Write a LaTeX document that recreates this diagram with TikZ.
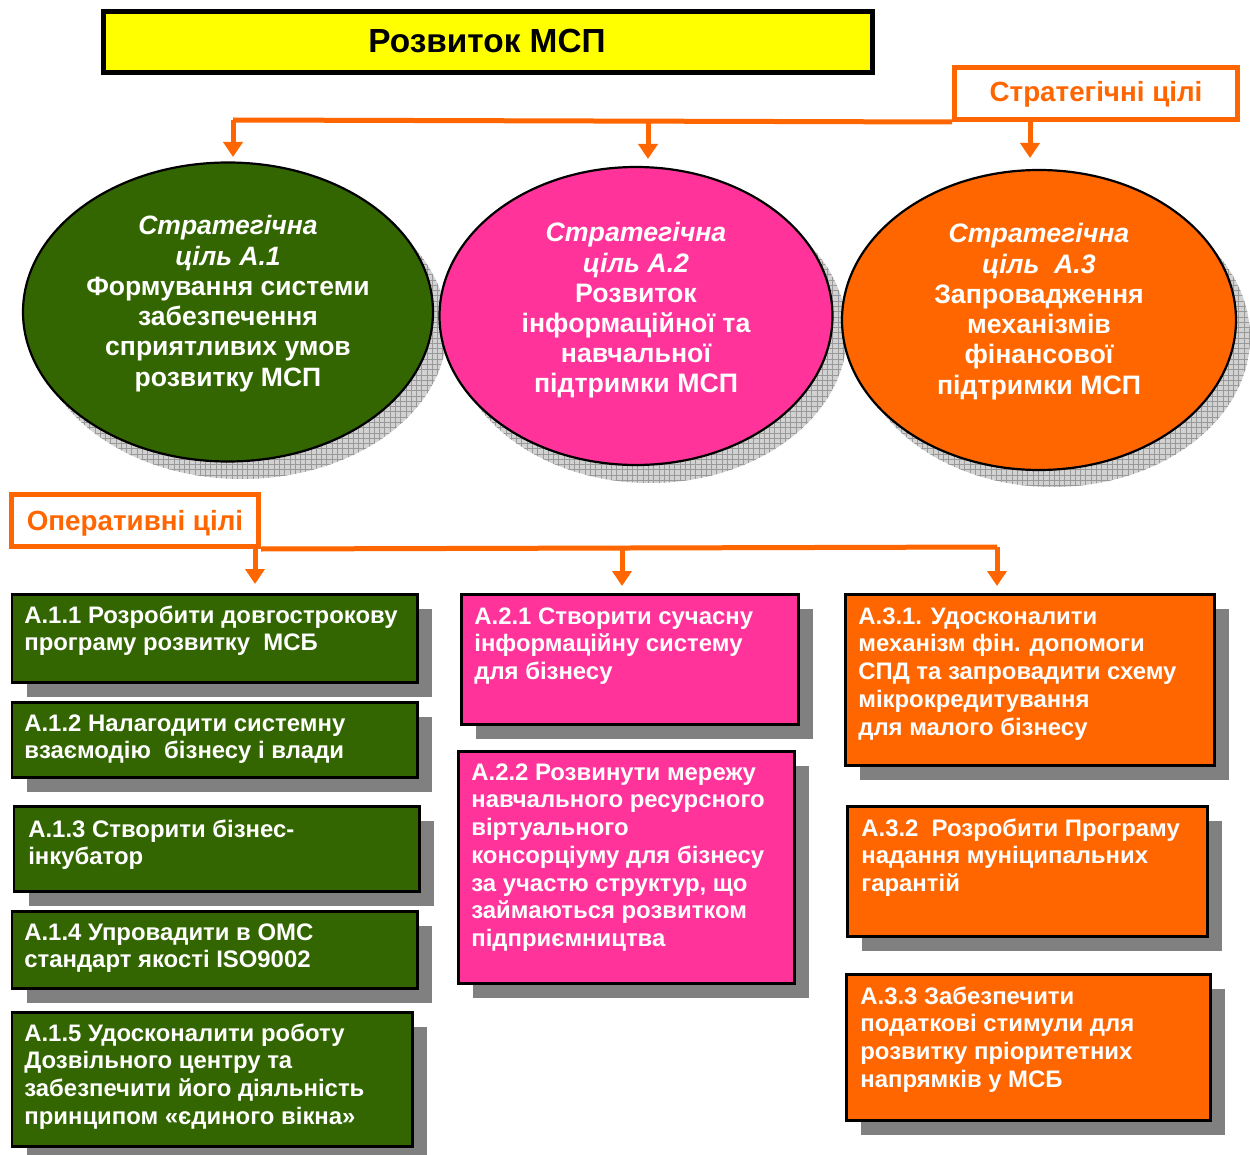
\documentclass[tikz,border=0pt]{standalone}
\usepackage{fontspec}
\setmainfont{Liberation Sans}
\usetikzlibrary{shapes.geometric,arrows.meta,patterns}
\newdimen\pxu \pxu=0.02cm
\definecolor{greenc}{HTML}{336600}
\definecolor{pinkc}{HTML}{FF3399}
\definecolor{orangec}{HTML}{FF6600}
\definecolor{yellowc}{HTML}{FFFF00}
\definecolor{shadowc}{HTML}{808080}
\newcommand\goalbox[9]{%
  \fill[shadowc] ({#2+16},{#3+16}) rectangle ({#4+16},{#5+16});
  \node[goalrect, fill=#6, minimum width={(#4-#2)*\pxu}, minimum height={(#5-#3)*\pxu}] (#1) at (#2,#3) {};
  \node[goaltext] (#1t) at (#7,{#8+1}) {\parbox[t]{390\pxu}{\raggedright\fontsize{13.6}{15.8}\selectfont\bfseries #9}};
}
\newcommand\ellshadow[3]{%
  \fill[gray!35] (#1,#2) ellipse [x radius=#3, y radius=150];
  \fill[pattern=grid, pattern color=gray!80] (#1,#2) ellipse [x radius=#3, y radius=150];
}
\begin{document}
\begin{tikzpicture}[x=0.02cm,y=-0.02cm,
  oline/.style={draw=orangec, line width=0.1cm},
  oarrow/.style={draw=orangec, line width=0.1cm, -{Triangle[width=0.38cm,length=0.3cm]}},
  goalrect/.style={rectangle, draw=black, line width=0.05cm, inner sep=0, anchor=north west},
  goaltext/.style={anchor=base west, inner sep=0, text=white},
  goalell/.style={ellipse, draw=black, line width=0.044cm, inner sep=0},
  elltext/.style={anchor=base, inner sep=0, text=white},
  labelbox/.style={rectangle, draw=orangec, line width=0.1cm, fill=white, inner sep=0, text=orangec}]
\useasboundingbox (0,0) rectangle (1250,1155);

% title
\node[rectangle, draw=black, line width=0.1cm, fill=yellowc, minimum width=769\pxu, minimum height=61\pxu, inner sep=0] (title) at (488,42) {};
\node[anchor=base, inner sep=0] (titlet) at (487,53) {\bfseries\fontsize{19}{22}\selectfont Розвиток МСП};

% strategic label
\node[labelbox, minimum width=283\pxu, minimum height=52\pxu] (sc) at (1096,93.5) {};
\node[anchor=base, inner sep=0, text=orangec] (sct) at (1096,102) {\bfseries\fontsize{15.8}{19}\selectfont Стратегічні цілі};

% ellipses
\ellshadow{242}{329}{205}
\ellshadow{650}{333}{197}
\ellshadow{1053}{337}{197}
\node[goalell, fill=greenc, minimum width=410\pxu, minimum height=299\pxu] (e1) at (228,312) {};
\node[goalell, fill=pinkc, minimum width=393\pxu, minimum height=298\pxu] (e2) at (636,316) {};
\node[goalell, fill=orangec, minimum width=394\pxu, minimum height=300\pxu] (e3) at (1039,320) {};

\node[elltext] (e1t) at (228,235) {\parbox[t]{390\pxu}{\centering\fontsize{15.1}{17.2}\selectfont\bfseries\itshape Стратегічна\\ ціль А.1\\ \upshape Формування системи\\ забезпечення\\ сприятливих умов\\ розвитку МСП}};
\node[elltext] (e2t) at (636,242) {\parbox[t]{370\pxu}{\centering\fontsize{15.2}{17.1}\selectfont\bfseries\itshape Стратегічна\\ ціль А.2\\ \upshape Розвиток\\ інформаційної та\\ навчальної\\ підтримки МСП}};
\node[elltext] (e3t) at (1039,243) {\parbox[t]{370\pxu}{\centering\fontsize{15.2}{17.2}\selectfont\bfseries\itshape Стратегічна\\ ціль~~А.3\\ \upshape Запровадження\\ механізмів\\ фінансової\\ підтримки МСП}};

% strategic connectors
\coordinate (s1) at (233,120);
\coordinate (s2) at (648,120);
\coordinate (s3) at (1030,120);
\coordinate (t1) at (233,157);
\coordinate (t2) at (648,159);
\coordinate (t3) at (1030,158);
\draw[oline] (sc.south west) -- (s1);
\draw[oarrow] (s1) -- (t1);
\draw[oarrow] (s2) -- (t2);
\draw[oarrow] (s3) -- (t3);

% operative label
\node[labelbox, minimum width=247\pxu, minimum height=52\pxu] (oc) at (135,520.5) {};
\node[anchor=base, inner sep=0, text=orangec] (oct) at (135,530) {\bfseries\fontsize{15.8}{18}\selectfont Оперативні цілі};

\coordinate (o1) at (255,547);
\coordinate (o2) at (622,547);
\coordinate (o3) at (997,547);
\coordinate (u1) at (255,584);
\coordinate (u2) at (622,586);
\coordinate (u3) at (997,586);
\draw[oline] (oc.south east) -- (o3);
\draw[oarrow] (o1) -- (u1);
\draw[oarrow] (o2) -- (u2);
\draw[oarrow] (o3) -- (u3);

% green boxes
\goalbox{a11}{11}{593}{416}{681}{greenc}{24}{622}{А.1.1 Розробити довгострокову\\ програму розвитку~~МСБ}
\goalbox{a12}{11}{701}{416}{776}{greenc}{24}{730}{А.1.2 Налагодити системну\\ взаємодію~~бізнесу і влади}
\goalbox{a13}{13}{805}{418}{890}{greenc}{28}{836}{А.1.3 Створити бізнес-\\ інкубатор}
\goalbox{a14}{11}{910}{416}{987}{greenc}{24}{939}{А.1.4 Упровадити в ОМС\\ стандарт якості ISO9002}
\goalbox{a15}{11}{1011}{411}{1145}{greenc}{24}{1040}{А.1.5 Удосконалити роботу\\ Дозвільного центру та\\ забезпечити його діяльність\\ принципом «єдиного вікна»}

% pink boxes
\goalbox{a21}{460}{593}{797}{723}{pinkc}{474}{623}{А.2.1 Створити сучасну\\ інформаційну систему\\ для бізнесу}
\goalbox{a22}{457}{750}{793}{982}{pinkc}{471}{779}{А.2.2 Розвинути мережу\\ навчального ресурсного\\ віртуального\\ консорціуму для бізнесу\\ за участю структур, що\\ займаються розвитком\\ підприємництва}

% orange boxes
\goalbox{a31}{844}{593}{1213}{764}{orangec}{858}{623}{А.3.1. Удосконалити\\ механізм фін. допомоги\\ СПД та запровадити схему\\ мікрокредитування\\ для малого бізнесу}
\goalbox{a32}{846}{805}{1206}{935}{orangec}{861}{835}{А.3.2~~Розробити Програму\\ надання муніципальних\\ гарантій}
\goalbox{a33}{845}{973}{1209}{1119}{orangec}{860}{1003}{А.3.3 Забезпечити\\ податкові стимули для\\ розвитку пріоритетних\\ напрямків у МСБ}
\end{tikzpicture}
\end{document}
